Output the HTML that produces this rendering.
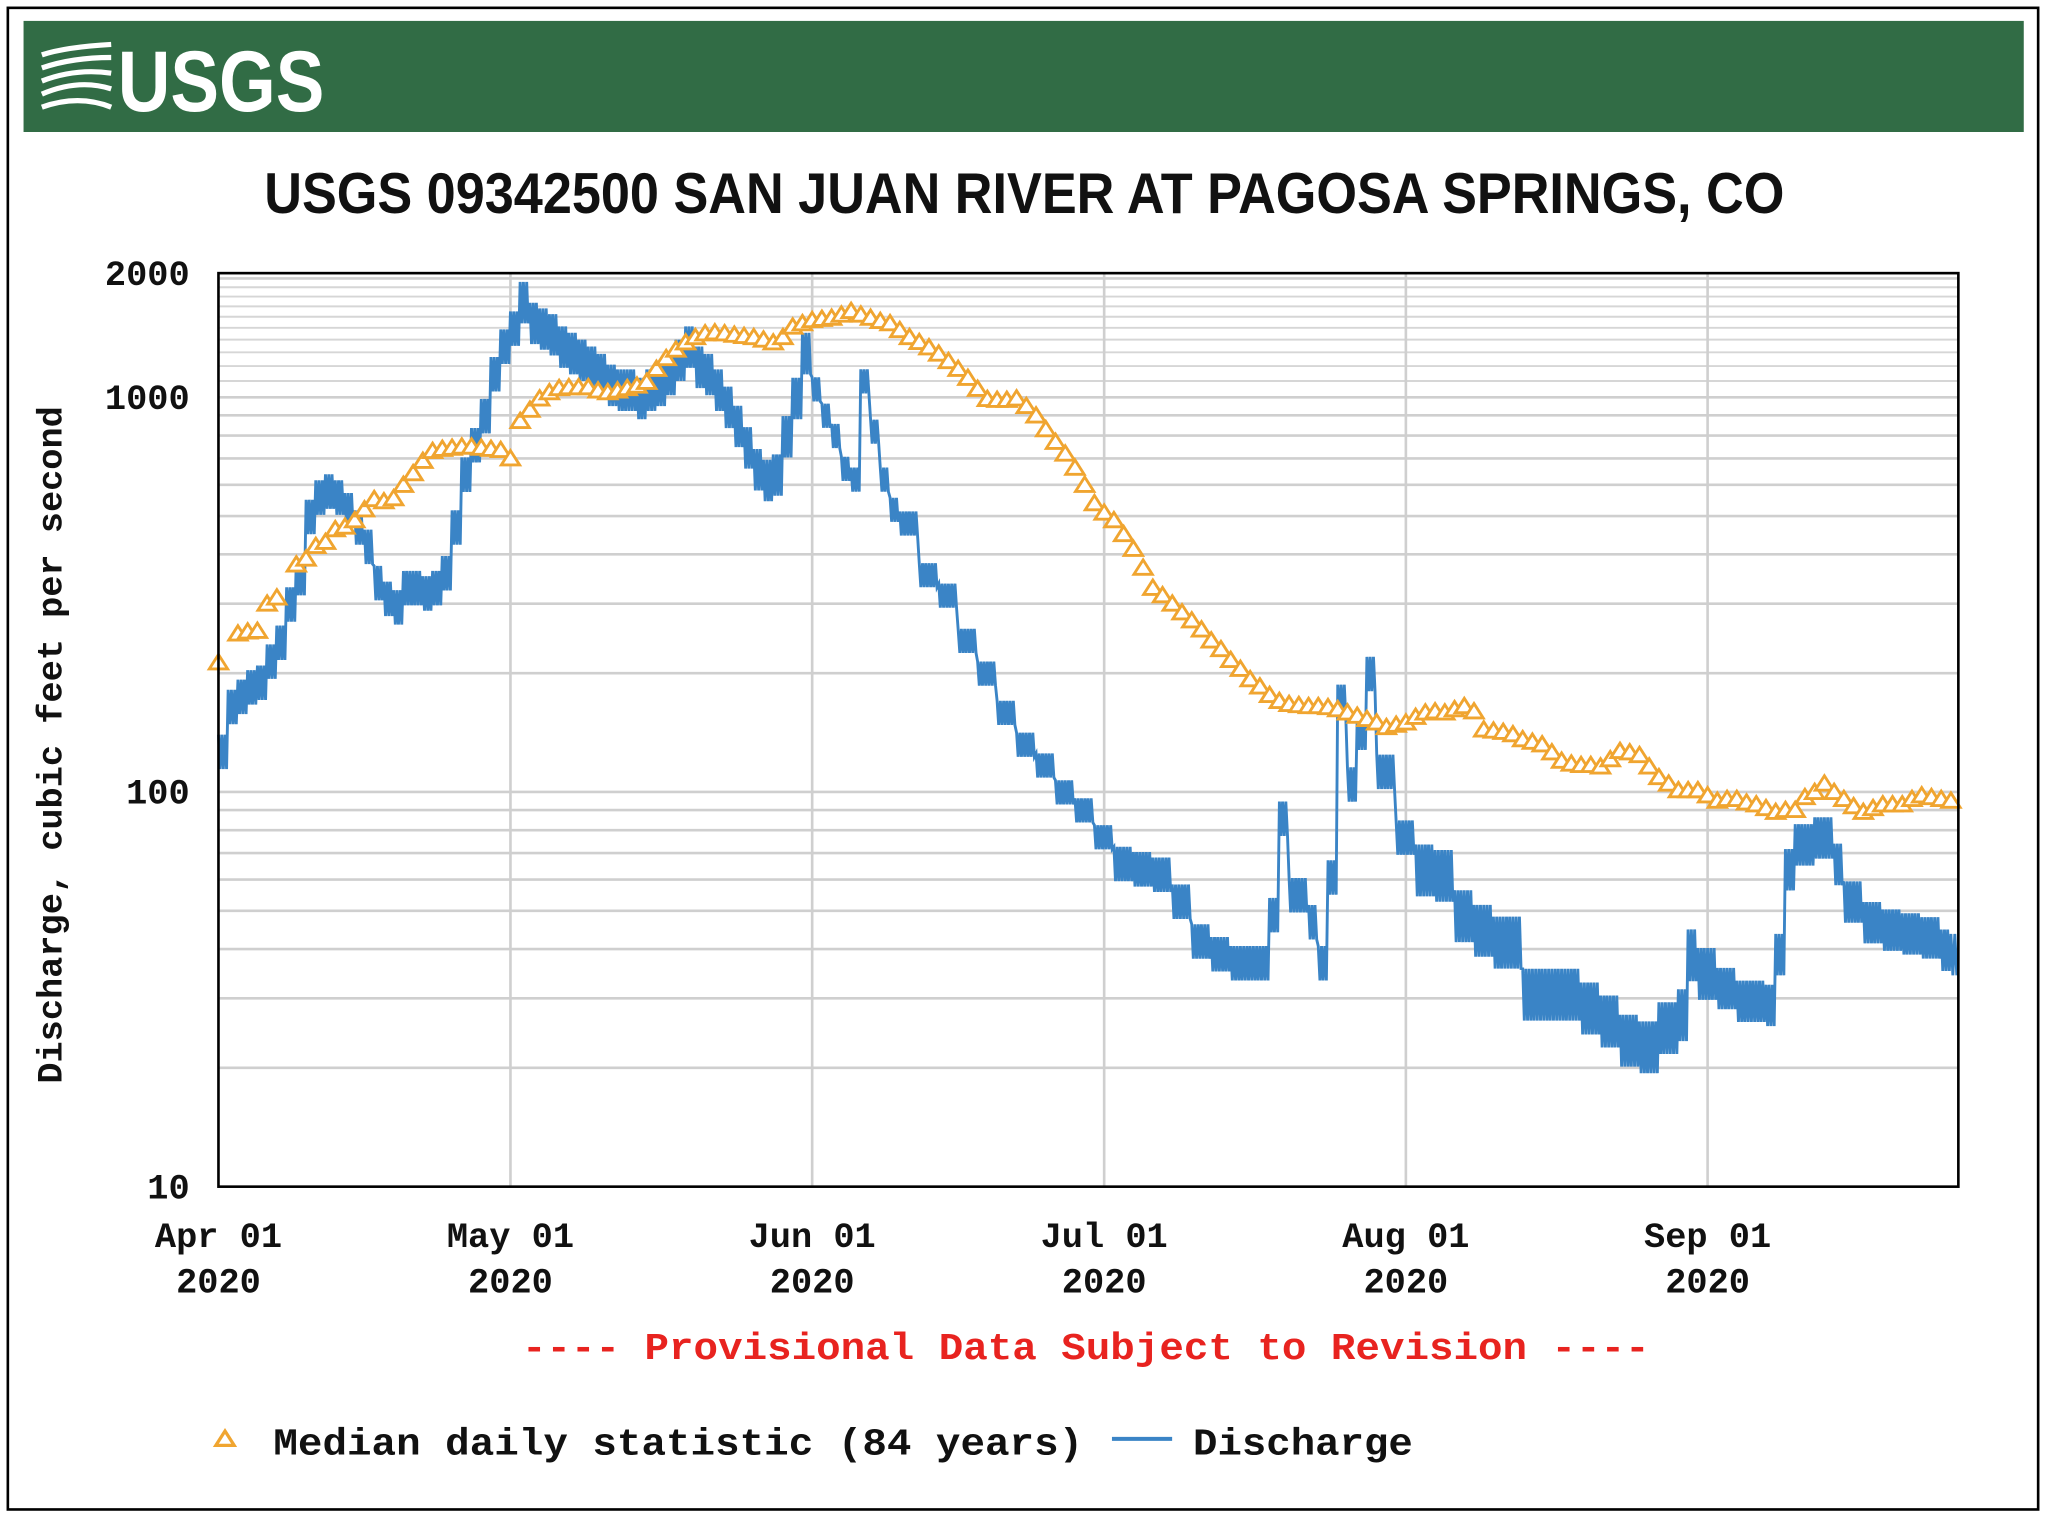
<!DOCTYPE html>
<html><head><meta charset="utf-8"><style>
html,body{margin:0;padding:0;background:#fff;}
svg{display:block;}
</style></head><body>
<svg id="chart" width="2046" height="1516" viewBox="0 0 1564 1160" preserveAspectRatio="none" xmlns="http://www.w3.org/2000/svg">
<rect x="6" y="6" width="1552" height="1149" fill="#fff" stroke="#000" stroke-width="2"/>
<rect x="18" y="16" width="1529" height="85" fill="#316c45"/>
<g>
  <g fill="none" stroke="#fff" stroke-width="4">
    <path d="M32 42 Q50 36 85 34"/><path d="M32 52 Q55 44 85 44"/><path d="M32 62 Q58 52 85 56"/><path d="M32 72 Q60 60 85 68"/><path d="M32 82 Q60 72 85 82"/>
  </g>
  <text x="90" y="85" fill="#fff" font-family="'Liberation Sans Narrow','Liberation Sans',sans-serif" font-weight="bold" font-size="66" textLength="158" lengthAdjust="spacingAndGlyphs">USGS</text>
</g>
<text x="202" y="163" font-family="'Liberation Sans Narrow','Liberation Sans',sans-serif" font-weight="bold" font-size="44" fill="#111" textLength="1162" lengthAdjust="spacingAndGlyphs">USGS 09342500 SAN JUAN RIVER AT PAGOSA SPRINGS, CO</text>
<g id="grid"></g>
<g id="series"></g>
<rect x="167" y="209" width="1330" height="699" fill="none" stroke="#000" stroke-width="2"/>
<g id="axes"></g>
<text transform="translate(47,570) rotate(-90)" text-anchor="middle" font-family="'Liberation Mono',monospace" font-weight="bold" font-size="27" fill="#111">Discharge, cubic feet per second</text>
<text x="830" y="1040" text-anchor="middle" font-family="'Liberation Mono',monospace" font-weight="bold" font-size="29" fill="#e8231f" textLength="862" lengthAdjust="spacingAndGlyphs">---- Provisional Data Subject to Revision ----</text>
<g>
  <path d="M172 1095 L179 1106 L165 1106 Z" fill="#fff" stroke="#f0a530" stroke-width="2.5"/>
  <text x="209" y="1113" font-family="'Liberation Mono',monospace" font-weight="bold" font-size="29" fill="#111" textLength="619" lengthAdjust="spacingAndGlyphs">Median daily statistic (84 years)</text>
  <line x1="850" y1="1101" x2="896" y2="1101" stroke="#3a84c6" stroke-width="3"/>
  <text x="912" y="1113" font-family="'Liberation Mono',monospace" font-weight="bold" font-size="29" fill="#111" textLength="168" lengthAdjust="spacingAndGlyphs">Discharge</text>
</g>
</svg>
<script>
const yTicks = [10, 100, 1000, 2000];
const yTickLabels = ["10", "100", "1000", "2000"];
const xTickDays = [0, 30, 61, 91, 122, 153];
const xTickMonths = ["Apr 01", "May 01", "Jun 01", "Jul 01", "Aug 01", "Sep 01"];
const xTickYears = ["2020", "2020", "2020", "2020", "2020", "2020"];
const medianDays = [0,2,3,4,5,6,8,9,10,11,12,13,14,15,16,17,18,19,20,21,22,23,24,25,26,27,28,29,30,31,32,33,34,35,36,37,38,39,40,41,42,43,44,45,46,47,48,49,50,51,52,53,54,55,56,57,58,59,60,61,62,63,64,65,66,67,68,69,70,71,72,73,74,75,76,77,78,79,80,81,82,83,84,85,86,87,88,89,90,91,92,93,94,95,96,97,98,99,100,101,102,103,104,105,106,107,108,109,110,111,112,113,114,115,116,117,118,119,120,121,122,123,124,125,126,127,128,129,130,131,132,133,134,135,136,137,138,139,140,141,142,143,144,145,146,147,148,149,150,151,152,153,154,155,156,157,158,159,160,161,162,163,164,165,166,167,168,169,170,171,172,173,174,175,176,177,178];
const medianValues = [213,252,255,256,300,311,377,390,420,430,463,470,488,520,552,545,555,600,642,690,731,740,745,750,750,745,740,735,700,871,930,993,1030,1055,1060,1060,1060,1040,1030,1040,1055,1070,1094,1180,1257,1320,1377,1420,1452,1460,1452,1440,1430,1420,1400,1377,1420,1510,1540,1568,1580,1590,1620,1654,1620,1590,1560,1540,1480,1420,1380,1338,1290,1235,1180,1120,1050,990,985,985,993,950,899,830,771,720,663,600,539,510,488,450,413,370,329,315,300,285,272,258,242,230,216,205,193,185,176,170,167,166,165,165,164,162,159,156,153,150,146,148,150,155,159,160,159,162,165,160,144,143,142,140,136,134,132,126,120,118,117,117,116,121,127,126,124,116,109,105,101,101,101,98,95,96,96,94,93,91,89,90,90,97,100,105,100,96,92,89,91,93,93,93,96,98,97,96,95];
const dischargeDays = [0,1,2,3,4,5,6,7,8,9,10,11,12,13,14,15,16,17,18,19,20,21,22,23,24,25,26,27,28,29,30,31,32,33,34,35,36,37,38,39,40,41,42,43,44,45,46,47,48,49,50,51,52,53,54,55,56,57,58,59,60,61,62,63,64,65,66,67,68,69,70,72,74,76,78,80,82,84,86,88,90,92,94,96,98,100,102,104,106,108,109,110,112,113,114,115,116,117,118,119,121,123,125,127,129,131,133,134,136,138,140,142,144,146,148,150,151,152,154,156,159,160,161,162,164,166,167,169,171,173,175,177,178];
const dischargeValues = [127,165,175,185,190,215,240,300,350,500,560,580,560,520,470,420,340,310,295,330,330,320,330,360,470,640,760,900,1150,1350,1500,1750,1550,1500,1450,1350,1300,1250,1200,1150,1080,1050,1050,1000,1050,1080,1150,1250,1350,1200,1150,1050,950,850,750,660,620,640,800,1000,1300,1050,900,800,660,620,1100,820,620,520,480,355,315,242,200,159,132,117,100,90,77,66,64,62,53,42,39,37,37,49,86,55,47,37,61,170,105,142,200,113,77,64,62,49,45,42,42,31,31,31,28.6,26.5,23.7,22.8,25.5,27.5,39,35,32,29.7,29,39,64,74,77,66,53,47,45,44,43,40,39];
const dischargeSwing = [0.1,0.12,0.07,0.1,0.15,0.12];

const NS = "http://www.w3.org/2000/svg";
const X0 = 167, X1 = 1497, Y0 = 908, DEC = 302, PX_PER_DAY = 7.44;
function xScale(d){ return X0 + d * PX_PER_DAY; }
function yScale(v){ return Y0 - DEC * Math.log10(v / 10); }
function mk(tag, attrs, parent){ const e = document.createElementNS(NS, tag); for (const k in attrs) e.setAttribute(k, attrs[k]); parent.appendChild(e); return e; }

const grid = document.getElementById('grid');
for (let dec = 10; dec <= 1000; dec *= 10) {
  for (let m = 1; m <= 9; m++) {
    const v = dec * m;
    if (v <= 10 || v > 2000) continue;
    const y = yScale(v);
    const gl = mk('line', {x1: X0, x2: X1, y1: y, y2: y, stroke: '#cfcfcf', 'stroke-width': 2}, grid);
    
    
  }
}
for (let v = 1100; v < 2000; v += 100) {
  const y = yScale(v);
  const gl = mk('line', {x1: X0, x2: X1, y1: y, y2: y, stroke: '#d6d6d6', 'stroke-width': 1.5}, grid);
  
  
}
xTickDays.forEach((d, i) => {
  if (i === 0) return;
  const x = xScale(d);
  const gl = mk('line', {x1: x, x2: x, y1: 209, y2: Y0, stroke: '#cfcfcf', 'stroke-width': 2}, grid);
  
  
});

const axes = document.getElementById('axes');
const font = "'Liberation Mono',monospace";
yTicks.forEach((v, i) => {
  let y = i === 3 ? 209 : yScale(v);
  const t = mk('text', {x: 145, y: y + 9, 'text-anchor': 'end', 'font-family': font, 'font-weight': 'bold', 'font-size': 27, fill: '#111'}, axes);
  t.textContent = yTickLabels[i];
  
  
});
xTickDays.forEach((d, i) => {
  const x = xScale(d);
  const t1 = mk('text', {x: x, y: 954, 'text-anchor': 'middle', 'font-family': font, 'font-weight': 'bold', 'font-size': 27, fill: '#111'}, axes);
  t1.textContent = xTickMonths[i];
  
  
  const t2 = mk('text', {x: x, y: 989, 'text-anchor': 'middle', 'font-family': font, 'font-weight': 'bold', 'font-size': 27, fill: '#111'}, axes);
  t2.textContent = xTickYears[i];
  
  
});

const series = document.getElementById('series');
let pts = [];
for (let i = 0; i < dischargeDays.length; i++) {
  const d = dischargeDays[i];
  const next = i < dischargeDays.length - 1 ? dischargeDays[i + 1] : d + 0.8;
  const s = dischargeSwing[Math.min(5, Math.floor(d / 30.5))];
  const v = dischargeValues[i];
  const steps = Math.max(2, Math.round((next - d) * 3));
  for (let k = 0; k < steps; k++) {
    const dd = d + k * (next - d) / steps;
    pts.push(xScale(dd).toFixed(1) + ',' + yScale(v * (1 + s)).toFixed(1));
    pts.push(xScale(dd + 0.5 * (next - d) / steps).toFixed(1) + ',' + yScale(v * (1 - s)).toFixed(1));
  }
}
const dl = mk('polyline', {points: pts.join(' '), fill: 'none', stroke: '#3a84c6', 'stroke-width': 2.2}, series);



medianDays.forEach((d, i) => {
  const x = xScale(d), y = yScale(medianValues[i]);
  const tri = mk('path', {d: `M${x} ${y - 6} L${x + 7} ${y + 5} L${x - 7} ${y + 5} Z`, fill: '#fff', stroke: '#f0a530', 'stroke-width': 2.2}, series);
  
  
});
</script>
</body></html>
